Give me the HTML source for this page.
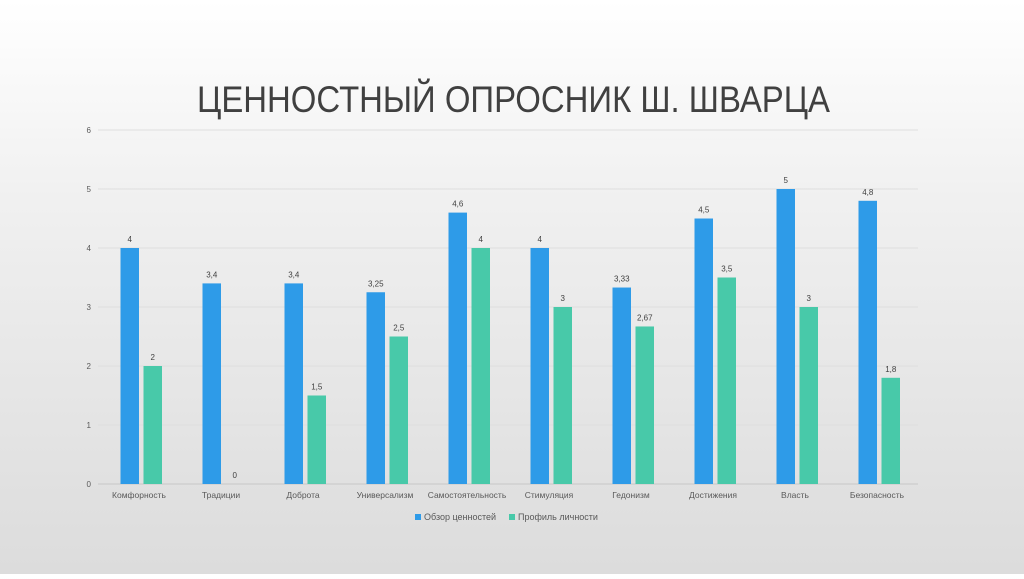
<!DOCTYPE html>
<html><head><meta charset="utf-8"><style>
html,body{margin:0;padding:0;}
body{width:1024px;height:574px;overflow:hidden;background:linear-gradient(180deg,#ffffff 0%,#f0f0f0 35%,#dcdcdc 100%);font-family:"Liberation Sans",sans-serif;}
</style></head><body>
<svg width="1024" height="574" xmlns="http://www.w3.org/2000/svg">
<text x="197" y="112" textLength="633" lengthAdjust="spacingAndGlyphs" font-size="37" fill="#404040">ЦЕННОСТНЫЙ ОПРОСНИК Ш. ШВАРЦА</text>
<g id="grid"></g><g id="bars"></g><g id="labels"></g>
<g>
<rect x="415" y="514" width="6" height="6" fill="#2e9be8"/>
<text x="424" y="520" font-size="9" fill="#595959">Обзор ценностей</text>
<rect x="509" y="514" width="6" height="6" fill="#48c9a9"/>
<text x="518" y="520" font-size="9" fill="#595959">Профиль личности</text>
</g>
</svg>
<script>
const categories=["Комфорность","Традиции","Доброта","Универсализм","Самостоятельность","Стимуляция","Гедонизм","Достижения","Власть","Безопасность"];
const seriesA=[4,3.4,3.4,3.25,4.6,4,3.33,4.5,5,4.8];
const seriesB=[2,0,1.5,2.5,4,3,2.67,3.5,3,1.8];
const labelsA=["4","3,4","3,4","3,25","4,6","4","3,33","4,5","5","4,8"];
const labelsB=["2","0","1,5","2,5","4","3","2,67","3,5","3","1,8"];
const yTicks=[0,1,2,3,4,5,6];
const NS="http://www.w3.org/2000/svg";
const x0=98,x1=918,yBase=484,unit=59;
const y=v=>yBase-v*unit;
const band=(x1-x0)/categories.length;
const xc=i=>x0+band*(i+0.5);
function mk(t,a,p){const e=document.createElementNS(NS,t);for(const k in a)e.setAttribute(k,a[k]);p.appendChild(e);return e;}
const g=document.getElementById('grid'),b=document.getElementById('bars'),l=document.getElementById('labels');
yTicks.forEach(t=>{
 const ln=mk('line',{x1:x0,x2:x1,y1:y(t),y2:y(t),stroke:t===0?'#c8c8c8':'#dedede','stroke-width':1},g);
 
 
 const tx=mk('text',{x:91,y:y(t)+3,'font-size':8,fill:'#595959','text-anchor':'end'},g);tx.textContent=t;
 
 
});
categories.forEach((c,i)=>{
 const cx=xc(i);
 const ra=mk('rect',{x:cx-18.5,y:y(seriesA[i]),width:18.5,height:seriesA[i]*unit,fill:'#2e9be8'},b);
 
 
 const rb=mk('rect',{x:cx+4.5,y:y(seriesB[i]),width:18.5,height:seriesB[i]*unit,fill:'#48c9a9'},b);
 
 
 const ta=mk('text',{x:cx-9.25,y:y(seriesA[i])-6,'font-size':8,fill:'#404040','text-anchor':'middle'},l);ta.textContent=labelsA[i];
 
 
 const tb=mk('text',{x:cx+13.75,y:y(seriesB[i])-6,'font-size':8,fill:'#404040','text-anchor':'middle'},l);tb.textContent=labelsB[i];
 
 
 const tc=mk('text',{x:cx,y:498,'font-size':8.5,fill:'#595959','text-anchor':'middle'},l);tc.textContent=c;
 
 
});
</script>
</body></html>
